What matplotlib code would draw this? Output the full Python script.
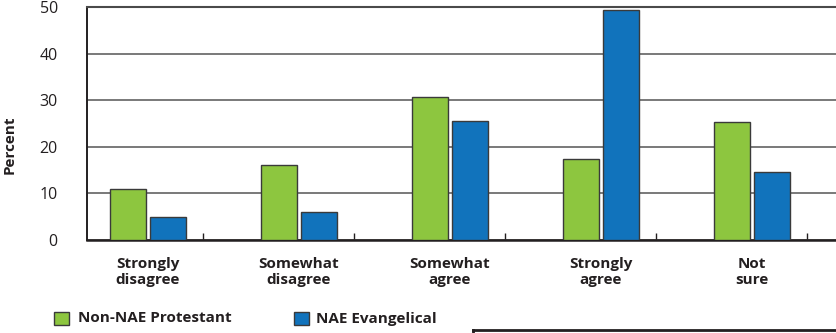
import numpy as np
import matplotlib.pyplot as plt
from matplotlib.patches import Rectangle
from matplotlib.lines import Line2D

categories = ["Strongly\ndisagree", "Somewhat\ndisagree", "Somewhat\nagree", "Strongly\nagree", "Not\nsure"]
series_names = ["Non-NAE Protestant", "NAE Evangelical"]
non_nae = [10.9, 16.1, 30.7, 17.3, 25.3]
nae = [5.0, 6.0, 25.5, 49.3, 14.6]
y_ticks = [0, 10, 20, 30, 40, 50]

GREEN = "#8dc63f"
BLUE = "#1173bc"
TEXT = "#231f20"
EDGE = "#3a3a3a"

plt.rcParams['font.family'] = ['Open Sans', 'DejaVu Sans']

fig = plt.figure(figsize=(8.36, 3.33), dpi=100)
ax = fig.add_axes([87 / 836, 1 - 240 / 333, 1 - 87 / 836, 233 / 333])

x = np.arange(len(categories))
w = 0.24
ax.bar(x - 0.133, non_nae, width=w, color=GREEN, edgecolor=EDGE, linewidth=1, zorder=3)
ax.bar(x + 0.133, nae, width=w, color=BLUE, edgecolor=EDGE, linewidth=1, zorder=3)

ax.set_xlim(-0.404, 4.556)
ax.set_ylim(0, 50)

# horizontal grid, the line at 50 is the top spine
ax.yaxis.grid(True, color="#555555", linewidth=1.1, zorder=1)
ax.set_axisbelow(True)

ax.spines['right'].set_visible(False)
ax.spines['top'].set_color("#4a4a4a")
ax.spines['top'].set_linewidth(1.5)
ax.spines['left'].set_color(TEXT)
ax.spines['bottom'].set_color(TEXT)
ax.spines['left'].set_linewidth(1.4)
ax.spines['bottom'].set_linewidth(1.8)

ax.set_yticks(y_ticks)
ax.set_yticklabels([str(t) for t in y_ticks], fontsize=11.5, color=TEXT)
ax.tick_params(axis='y', length=0, pad=21)

ax.set_xticks(x)
ax.set_xticklabels(categories, fontsize=11, fontweight='bold', color=TEXT, linespacing=1.25)
ax.tick_params(axis='x', length=0, pad=12)
ax.set_xticks(x + 0.364, minor=True)
ax.tick_params(axis='x', which='minor', length=5, width=1, color=TEXT, direction='in')

ax.set_ylabel("Percent", fontsize=11, fontweight='bold', color=TEXT)
ax.yaxis.set_label_coords(-70 / 749, 0.41)

# legend drawn in figure pixels
def fx(px):
    return px / 836

def fy(py):
    return 1 - py / 333

colors = [GREEN, BLUE]
sq_x = [54, 294]
txt_x = [78, 316]
for name, c, sx, tx in zip(series_names, colors, sq_x, txt_x):
    fig.patches.append(Rectangle((fx(sx), fy(325)), fx(15), 13 / 333, transform=fig.transFigure,
                                 facecolor=c, edgecolor=EDGE, linewidth=1))
    fig.text(fx(tx), fy(318.5), name, fontsize=11, fontweight='bold', color=TEXT, va='center', ha='left')

# partial box at lower right
fig.lines.append(Line2D([fx(473), fx(836)], [fy(330), fy(330)], transform=fig.transFigure, color=TEXT, linewidth=2))
fig.lines.append(Line2D([fx(473), fx(473)], [fy(330), fy(334)], transform=fig.transFigure, color=TEXT, linewidth=2))

fig.savefig("out.png", dpi=100)
